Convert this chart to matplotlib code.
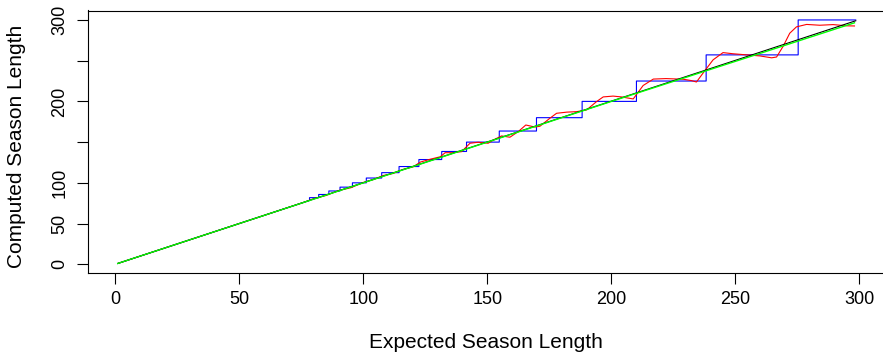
import matplotlib
matplotlib.use("Agg")
import matplotlib.pyplot as plt

plt.rcParams['font.family'] = ['Liberation Sans', 'DejaVu Sans']

# blue: quantised season length (step levels start at each break)
blue_breaks = [78.3, 82.0, 86.1, 90.6, 95.6, 101.2, 107.4, 114.4, 122.4, 131.6,
               141.6, 154.8, 169.8, 188.2, 210.1, 238.2, 275.3]
blue_levels = [81.8, 85.7, 90.0, 94.7, 100.0, 105.9, 112.5, 120.0, 128.6, 138.5,
               150.0, 163.6, 180.0, 200.0, 225.0, 257.1, 300.0]
blue_start = [1, 1]
blue_end_x = 298.5

# red: smoothed estimate
red_x = [1, 20, 40, 60, 75, 80, 85, 90, 95, 100, 104, 108, 112, 116, 120, 123, 127,
         131, 133, 136, 139.6, 143, 146.3, 150.3, 153, 155.7, 159.1, 162.4, 165.5,
         169.2, 171.2, 175.2, 177.9, 182, 186, 190, 194, 196.7, 200.7, 204, 208.8,
         212.8, 216.9, 222, 229, 232.3, 234.3, 237.5, 241, 245, 249, 253, 259.9,
         264.6, 266.6, 269.3, 271.9, 274.6, 278.7, 284, 289.4, 294.8, 298]
red_y = [1, 20, 40, 60, 75, 80.5, 84.5, 90.5, 94, 100.5, 104, 109, 111.5, 116.5,
         119.5, 125.5, 129, 132, 137, 137, 138.3, 148.6, 149.8, 148.6, 153.5, 157.6,
         156, 162.8, 171, 168.5, 169.5, 179.3, 185.4, 186.8, 187.4, 189.5, 199.7,
         205.5, 206.5, 205.5, 203, 219.5, 227.4, 228, 227.2, 225.5, 223.8, 237, 251,
         259.9, 258.5, 257.5, 255.8, 253.5, 254.5, 268, 283.7, 291.5, 294.5, 293.5,
         294.3, 292.8, 292.6]

# black: expected = computed
black_x = [1, 298.5]
black_y = [1, 299]

# green: fitted line
green_x = [1, 100, 200, 260, 298]
green_y = [1, 100, 200, 259, 296.5]

x_ticks = [0, 50, 100, 150, 200, 250, 300]
y_ticks = [0, 50, 100, 150, 200, 250, 300]
y_tick_labels = ['0', '50', '100', '', '200', '', '300']

# build step vertices for the blue series
bx = [blue_start[0], blue_breaks[0]]
by = [blue_start[1], blue_breaks[0]]
for i, b in enumerate(blue_breaks):
    bx += [b, b]
    by += [by[-1], blue_levels[i]]
    nxt = blue_breaks[i + 1] if i + 1 < len(blue_breaks) else blue_end_x
    bx.append(nxt)
    by.append(blue_levels[i])

fig = plt.figure(figsize=(8.83, 3.55), dpi=100)
ax = fig.add_axes([88 / 883, 1 - 272.5 / 355, 796 / 883, 262 / 355])

ax.plot(bx, by, color='blue', lw=0.8)
ax.plot(red_x, red_y, color='red', lw=0.8)
ax.plot(black_x, black_y, color='black', lw=0.8)
ax.plot(green_x, green_y, color='#00ff00', lw=1.0)

ax.set_xlim(-11.0, 309.9)
ax.set_ylim(-10.1, 311.6)

ax.set_xticks(x_ticks)
ax.set_xticklabels([str(t) for t in x_ticks])
ax.set_yticks(y_ticks)
ax.set_yticklabels(y_tick_labels, rotation=90, va='center')
ax.tick_params(axis='both', length=8, width=0.8, labelsize=13, color='black')
ax.tick_params(axis='x', pad=5)
ax.tick_params(axis='y', pad=6)
for s in ax.spines.values():
    s.set_linewidth(0.8)

ax.set_xlabel('Expected Season Length', fontsize=15)
ax.set_ylabel('Computed Season Length', fontsize=15)
ax.xaxis.label.set_va('center')
ax.yaxis.label.set_va('center')
ax.xaxis.set_label_coords(0.5, (272.5 - 343) / 262)
ax.yaxis.set_label_coords((17 - 88) / 796, (272.5 - 146) / 262)

fig.savefig('out.png', dpi=100)
